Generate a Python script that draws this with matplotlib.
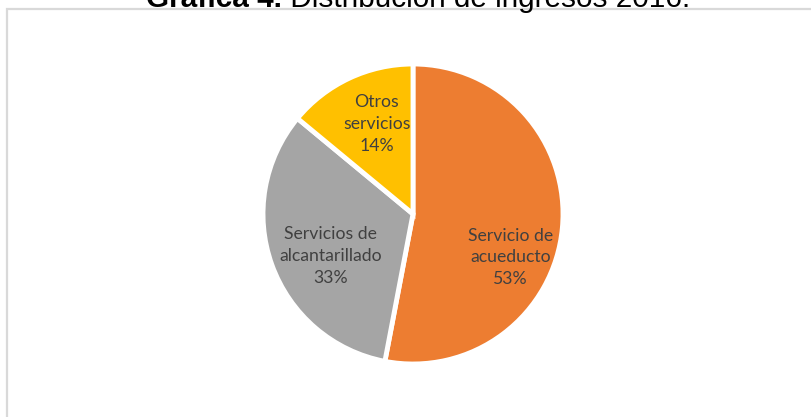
import matplotlib
matplotlib.use("Agg")
import matplotlib.pyplot as plt
from matplotlib.patches import Rectangle

# data
categories = ["Servicio de\nacueducto", "Servicios de\nalcantarillado", "Otros\nservicios"]
shares = [53, 33, 14]
colors = ["#ED7D31", "#A5A5A5", "#FFC000"]

# label centres in pie units (radius = 1)
label_pos = [(0.65, -0.29), (-0.55, -0.28), (-0.24, 0.60)]

W, H = 812, 417
fig = plt.figure(figsize=(W / 100, H / 100), dpi=100)

# chart frame (only top and left edges visible in the crop)
fig.patches.append(Rectangle((7 / W, -0.2), 2.0, (H - 9) / H + 0.2,
                             transform=fig.transFigure, fill=False,
                             edgecolor="#D9D9D9", linewidth=1.6))

cx, cy, r = 413, H - 214, 150
ax = fig.add_axes([(cx - r) / W, (cy - r) / H, 2 * r / W, 2 * r / H])
ax.pie(shares, colors=colors, startangle=90, counterclock=False,
       wedgeprops=dict(edgecolor="white", linewidth=3.5))
ax.set_xlim(-1, 1)
ax.set_ylim(-1, 1)

for cat, val, (x, y) in zip(categories, shares, label_pos):
    ax.text(x, y, f"{cat}\n{val}%", ha="center", va="center",
            fontsize=12.7, family="Lato", color="#404040", linespacing=1.45)

# title, partly cut by the top edge
renderer = fig.canvas.get_renderer()
t1 = fig.text(0, 1 - 7 / H, "Gráfica 4.", fontsize=21.4, fontweight="bold",
              family="Liberation Sans", va="baseline", ha="left")
t2 = fig.text(0, 1 - 7 / H, " Distribución de ingresos 2016.", fontsize=21.4,
              family="Liberation Sans", va="baseline", ha="left")
w1 = t1.get_window_extent(renderer).width
w2 = t2.get_window_extent(renderer).width
x0 = 418.5 - (w1 + w2) / 2
t1.set_x(x0 / W)
t2.set_x((x0 + w1) / W)

fig.savefig("out.png", dpi=100)
